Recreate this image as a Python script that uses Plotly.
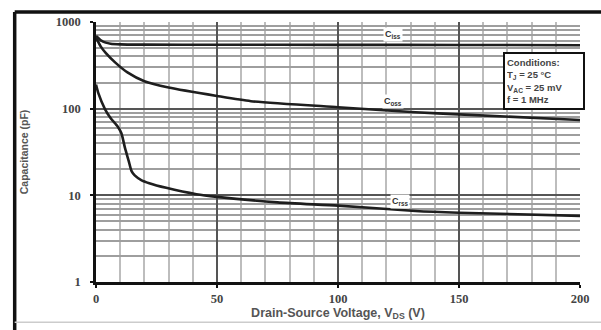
import plotly.graph_objects as go

# Drain-source voltage (V) and capacitances (pF)
v_ciss = [0, 2, 4, 6, 10, 20, 50, 100, 150, 200]
ciss = [690, 615, 578, 562, 552, 548, 546, 545, 543, 540]

v_coss = [0, 2, 4, 8, 13, 20, 30, 50, 64, 100, 132, 150, 200]
coss = [660, 520, 440, 340, 262, 207, 175, 140, 122, 104, 91, 86, 74]

v_crss = [0, 1, 3.7, 6, 9, 10.5, 12, 13.5, 14.7, 16, 18.7, 22, 29, 41.5, 50, 75, 100, 132, 150, 200]
crss = [190, 150, 99, 78, 62, 52, 35, 25, 19, 17, 15, 13.8, 12.2, 10.3, 9.6, 8.3, 7.6, 6.6, 6.3, 5.8]

y_tickvals = [1, 10, 100, 1000]
y_ticktext = ["1", "10", "100", "1000"]
x_tickvals = [0, 50, 100, 150, 200]

series = [("C<sub>iss</sub>", v_ciss, ciss), ("C<sub>oss</sub>", v_coss, coss), ("C<sub>rss</sub>", v_crss, crss)]
label_pos = {"C<sub>iss</sub>": (122.6, 2.86), "C<sub>oss</sub>": (122.6, 2.08), "C<sub>rss</sub>": (125.5, 0.93)}

fig = go.Figure()
for name, xs, ys in series:
    fig.add_trace(go.Scatter(x=xs, y=ys, mode="lines", name=name,
                             line=dict(color="#1e1e1e", width=2.6, shape="spline", smoothing=0.6),
                             showlegend=False, hoverinfo="skip"))
    lx, ly = label_pos[name]
    fig.add_annotation(x=lx, y=ly, text="<b>" + name + "</b>", showarrow=False,
                       font=dict(family="Liberation Sans", size=9, color="#333"),
                       bgcolor="white", borderpad=1)

fig.add_annotation(x=185, y=2.316, xref="x", yref="y", width=74, height=50,
                   text="<b>Conditions:</b><br><b>T<sub>J</sub> = 25 °C</b><br><b>V<sub>AC</sub> = 25 mV</b><br><b>f = 1 MHz</b>",
                   showarrow=False, align="left", valign="middle",
                   font=dict(family="Liberation Sans", size=9.5, color="#444"),
                   bgcolor="white", bordercolor="#111", borderwidth=2, borderpad=2)

fig.update_xaxes(range=[0, 200], tickvals=x_tickvals, ticktext=["<b>%d</b>" % v for v in x_tickvals],
                 showline=True, linecolor="#111", linewidth=2.5, ticks="outside", ticklen=3, tickcolor="#111",
                 tickwidth=2, showgrid=True, gridcolor="#555", gridwidth=2, zeroline=False,
                 minor=dict(dtick=10, showgrid=True, gridcolor="#bdbdbd", gridwidth=1.5),
                 tickfont=dict(family="Liberation Serif", size=12.5, color="#444"),
                 title=dict(text="<b>Drain-Source Voltage, V<sub>DS</sub> (V)</b>", standoff=3,
                            font=dict(family="Liberation Sans", size=12.5, color="#555")))
fig.update_yaxes(type="log", range=[0, 3], tickvals=y_tickvals, ticktext=["<b>%s</b>" % t for t in y_ticktext],
                 showline=True, linecolor="#111", linewidth=2.5, ticks="outside", ticklen=3, tickcolor="#111",
                 tickwidth=2, showgrid=True, gridcolor="#555", gridwidth=2, zeroline=False,
                 ticklabelstandoff=7,
                 minor=dict(dtick="D1", showgrid=True, gridcolor="#9e9e9e", gridwidth=1.8),
                 tickfont=dict(family="Liberation Serif", size=12.5, color="#444"),
                 title=dict(text="<b>Capacitance (pF)</b>", standoff=26,
                            font=dict(family="Liberation Sans", size=10.5, color="#555")))

# outer frame of the picture
fig.add_shape(type="line", xref="paper", yref="paper", x0=-0.168, x1=-0.168, y0=-0.2, y1=1.038,
              line=dict(color="#111", width=3.5))
fig.add_shape(type="line", xref="paper", yref="paper", x0=-0.168, x1=1.2, y0=1.038, y1=1.038,
              line=dict(color="#111", width=3.5))
fig.add_shape(type="line", xref="paper", yref="paper", x0=-0.168, x1=1.2, y0=-0.155, y1=-0.155,
              line=dict(color="#ccc", width=1.5))

fig.update_layout(width=601, height=330, margin=dict(l=96, r=14, t=22, b=45),
                  paper_bgcolor="white", plot_bgcolor="white")

fig.write_html("out.html", config={"displayModeBar": False},
               post_script="document.body.style.margin='0';document.body.style.overflow='hidden';")
